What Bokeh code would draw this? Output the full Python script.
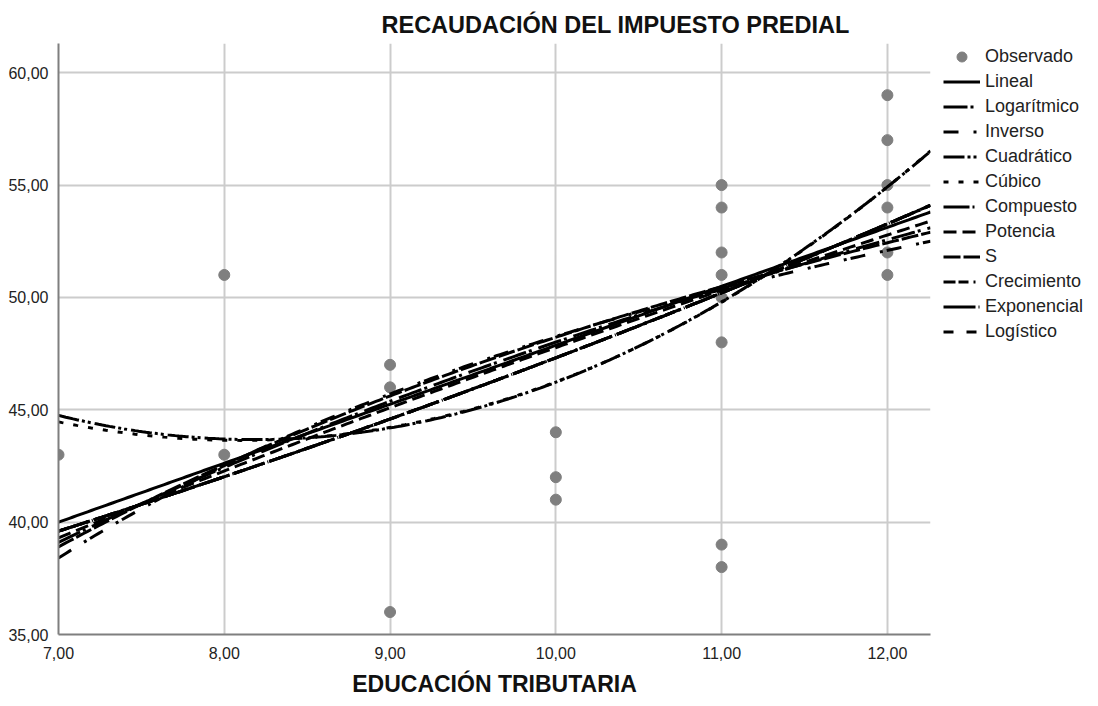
import numpy as np
from bokeh.plotting import figure
from bokeh.models import Range1d, FixedTicker, Legend, LegendItem
from bokeh.embed import file_html
from bokeh.resources import INLINE

# ---- data ----
obs_x = [7, 8, 8, 9, 9, 9, 10, 10, 10,
         11, 11, 11, 11, 11, 11, 11, 11,
         12, 12, 12, 12, 12, 12]
obs_y = [43, 51, 43, 47, 46, 36, 44, 42, 41,
         55, 54, 52, 51, 50, 48, 39, 38,
         59, 57, 55, 54, 52, 51]

x_ticks = [7, 8, 9, 10, 11, 12]
x_tick_labels = ["7,00", "8,00", "9,00", "10,00", "11,00", "12,00"]
y_ticks = [35, 40, 45, 50, 55, 60]
y_tick_labels = ["35,00", "40,00", "45,00", "50,00", "55,00", "60,00"]

model_names = ["Lineal", "Logarítmico", "Inverso", "Cuadrático", "Cúbico",
               "Compuesto", "Potencia", "S", "Crecimiento", "Exponencial", "Logístico"]
model_dashes = ["solid", "24 3 3 7", "15 15 3 4", "21 3 3 3 3 4", "5 10",
                "26 3 2 6", "13 6", "17 3", "12 3 10 5 2 5", "32 3 1 1", "10 13"]

# model coefficients (SPSS curve estimation)
coef_lineal = [21.63, 2.624]                 # b0 + b1*x
coef_log = [-9.513, 24.982]                  # b0 + b1*ln(x)
coef_inverso = [71.26, -230.0]               # b0 + b1/x
coef_cuad = [95.276, -12.615, 0.771]         # b0 + b1*x + b2*x^2
coef_cub = [83.495, -9.12525, 0.430, 0.011]  # b0 + b1*x + b2*x^2 + b3*x^3
coef_comp = [26.144, 1.06111]                # b0 * b1^x
coef_pot = [13.553, 0.54709]                 # b0 * x^b1
coef_s = [4.3775, -5.0156]                   # exp(b0 + b1/x)
coef_crec = [3.2636, 0.059316]               # exp(b0 + b1*x)
coef_expo = [26.144, 0.059316]               # b0 * exp(b1*x)
coef_logis = [0.038250, 0.94240]             # 1 / (b0 * b1^x)

title_text = "RECAUDACIÓN DEL IMPUESTO PREDIAL"
x_label = "EDUCACIÓN TRIBUTARIA"

X_MIN, X_MAX = 7.0, 12.26
Y_MIN, Y_MAX = 35.0, 61.3

xs = np.linspace(X_MIN, X_MAX, 240)
curves = {
    "Lineal": coef_lineal[0] + coef_lineal[1] * xs,
    "Logarítmico": coef_log[0] + coef_log[1] * np.log(xs),
    "Inverso": coef_inverso[0] + coef_inverso[1] / xs,
    "Cuadrático": coef_cuad[0] + coef_cuad[1] * xs + coef_cuad[2] * xs ** 2,
    "Cúbico": coef_cub[0] + coef_cub[1] * xs + coef_cub[2] * xs ** 2 + coef_cub[3] * xs ** 3,
    "Compuesto": coef_comp[0] * coef_comp[1] ** xs,
    "Potencia": coef_pot[0] * xs ** coef_pot[1],
    "S": np.exp(coef_s[0] + coef_s[1] / xs),
    "Crecimiento": np.exp(coef_crec[0] + coef_crec[1] * xs),
    "Exponencial": coef_expo[0] * np.exp(coef_expo[1] * xs),
    "Logístico": 1.0 / (coef_logis[0] * coef_logis[1] ** xs),
}

FONT = "Liberation Sans"

p = figure(frame_width=872, frame_height=591,
           min_border_left=58, min_border_right=168,
           min_border_top=43, min_border_bottom=72,
           x_range=Range1d(X_MIN, X_MAX), y_range=Range1d(Y_MIN, Y_MAX),
           output_backend="svg", toolbar_location=None,
           background_fill_color="white", border_fill_color="white")
p.outline_line_color = None

p.title.text = title_text
p.title.text_font = FONT
p.title.text_font_size = "23.5px"
p.title.text_font_style = "bold"
p.title.text_color = "#111111"
p.title.align = "left"
p.title.offset = 323
p.title.standoff = 11

for ax in (p.xaxis, p.yaxis):
    ax.axis_line_color = "#7f7f7f"
    ax.axis_line_width = 2
    ax.major_tick_line_color = None
    ax.minor_tick_line_color = None
    ax.major_tick_out = 0
    ax.major_tick_in = 0
    ax.major_label_text_font = FONT
    ax.major_label_text_font_size = "16px"
    ax.major_label_text_color = "#222222"

p.xaxis.ticker = FixedTicker(ticks=x_ticks)
p.yaxis.ticker = FixedTicker(ticks=y_ticks)
p.xaxis.major_label_overrides = dict(zip(x_ticks, x_tick_labels))
p.yaxis.major_label_overrides = dict(zip(y_ticks, y_tick_labels))
p.xaxis.major_label_standoff = 12
p.yaxis.major_label_standoff = 10

p.xaxis.axis_label = x_label
p.xaxis.axis_label_text_font = FONT
p.xaxis.axis_label_text_font_size = "23px"
p.xaxis.axis_label_text_font_style = "bold"
p.xaxis.axis_label_text_color = "#111111"
p.xaxis.axis_label_standoff = 9

p.xgrid.ticker = FixedTicker(ticks=x_ticks)
p.ygrid.ticker = FixedTicker(ticks=y_ticks)
for g in (p.xgrid, p.ygrid):
    g.grid_line_color = "#cccccc"
    g.grid_line_width = 2

items = []
pts = p.scatter(obs_x, obs_y, size=11, fill_color="#7f7f7f", line_color="#7f7f7f")
items.append(LegendItem(label="Observado", renderers=[pts]))
for name, dash in zip(model_names, model_dashes):
    r = p.line(xs, curves[name], line_color="black", line_width=3, line_dash=dash)
    items.append(LegendItem(label=name, renderers=[r]))

legend = Legend(items=items, location=(13, 290))
legend.border_line_color = None
legend.background_fill_alpha = 0
legend.padding = 0
legend.margin = 0
legend.spacing = 0
legend.glyph_width = 37
legend.glyph_height = 25
legend.label_height = 25
legend.label_standoff = 5
legend.label_text_font = FONT
legend.label_text_font_size = "18px"
legend.label_text_color = "#222222"
p.add_layout(legend, "right")

open("out.html", "w").write(file_html(p, INLINE))
